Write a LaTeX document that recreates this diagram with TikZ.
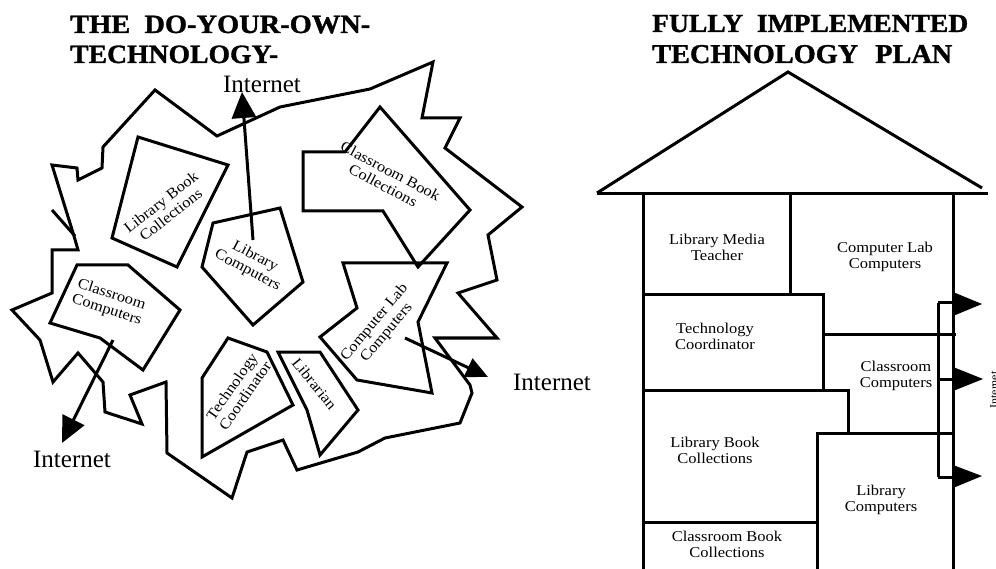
\documentclass[tikz,border=0pt]{standalone}
\usepackage{fontspec}
\usepackage{graphicx}
\setmainfont{Liberation Serif}
\newfontfamily\ttlfont{Liberation Serif}[BoldFeatures={FakeBold=1.2}]
\usetikzlibrary{arrows.meta}
\newcommand{\wtxt}[1]{\scalebox{1.1}[1]{\begin{tabular}{@{}c@{}}#1\end{tabular}}}
\begin{document}
\begin{tikzpicture}[x=1pt,y=-1pt,line join=miter,
  edge/.style={line width=3pt},
  lab/.style={font=\fontsize{15}{16}\selectfont, inner sep=0pt},
  net/.style={font=\fontsize{25}{28}\selectfont, inner sep=0pt},
  ttl/.style={anchor=base west, inner sep=0pt, font=\ttlfont\bfseries},
  arr/.style={line width=3pt, -{Triangle[length=26pt,width=24pt]}},
  arrs/.style={line width=3pt, -{Triangle[length=22pt,width=20pt]}},
  tri/.style={fill=black}]
\useasboundingbox (0,0) rectangle (996,569);
% titles
\node[ttl] (t1) at (70,33) {\resizebox{300pt}{17.5pt}{THE\hspace{0.5em}DO-YOUR-OWN-}};
\node[ttl] (t2) at (70,63) {\resizebox{208pt}{17.5pt}{TECHNOLOGY-}};
\node[ttl] (t3) at (652,32) {\resizebox{316pt}{17pt}{FULLY\hspace{0.5em}IMPLEMENTED}};
\node[ttl] (t4) at (652,63) {\resizebox{300pt}{18pt}{TECHNOLOGY\hspace{0.6em}PLAN}};
% cloud outline
\draw[edge] (155,90) -- (217,136) -- (280,107) -- (370,89) -- (433,62) -- (422,118) -- (460,118) -- (445,148) -- (522,207) -- (488,235) -- (497,280) -- (458,293) -- (497,338) -- (435,338) -- (470,385) -- (472,393) -- (460,423) -- (385,438) -- (358,452) -- (297,470) -- (283,440) -- (247,452) -- (232,498) -- (167,453) -- (166,382) -- (130,395) -- (142,424) -- (105,412) -- (103,382) -- (78,353) -- (53,382) -- (40,340) -- (12,310) -- (52,293) -- (52,250) -- (78,250) -- (74,236) -- (52,165) -- (77,168) -- (78,180) -- (102,168) -- (103,147) -- cycle;
\draw[edge] (52,210) -- (75,236);
% inner shapes
\draw[edge] (138,137) -- (228,165) -- (177,267) -- (112,238) -- cycle;
\draw[edge] (213,223) -- (280,208) -- (303,282) -- (253,325) -- (202,267) -- cycle;
\draw[edge] (303,152) -- (345,152) -- (380,107) -- (470,210) -- (418,267) -- (383,211) -- (303,211) -- cycle;
\draw[edge] (343,263) -- (447,263) -- (418,322) -- (432,393) -- (357,380) -- (320,337) -- (357,308) -- cycle;
\draw[edge] (77,265) -- (128,265) -- (180,310) -- (143,370) -- (100,338) -- (50,323) -- cycle;
\draw[edge] (228,338) -- (267,352) -- (293,405) -- (202,457) -- (202,378) -- cycle;
\draw[edge] (278,352) -- (320,352) -- (358,410) -- (320,455) -- (307,410) -- cycle;
% labels in cloud
\node[lab, rotate=38] (lbc) at (167,210) {\wtxt{Library Book\\Collections}};
\node[lab, rotate=-28] (lc) at (251,264) {\wtxt{Library\\Computers}};
\node[lab, rotate=-28] (cbc) at (386,180) {\wtxt{Classroom Book\\Collections}};
\node[lab, rotate=50] (clc) at (381,328) {\wtxt{Computer Lab\\Computers}};
\node[lab, rotate=55] (tc) at (240,392) {\wtxt{Technology\\Coordinator}};
\node[lab, rotate=-51] (lib) at (313,385) {\wtxt{Librarian}};
\node[lab, rotate=-18] (cc) at (109,303) {\wtxt{Classroom\\Computers}};
% internet labels
\node[net] (netA) at (262,84) {Internet};
\node[net] (netB) at (72,459) {Internet};
\node[net] (netC) at (552,382) {Internet};
% arrows
\coordinate (srcA) at (253,240);
\coordinate (tipA) at (242,92);
\coordinate (srcB) at (113,340);
\coordinate (tipB) at (62,443);
\coordinate (srcC) at (405,338);
\coordinate (tipC) at (488,377);
\draw[arr] (srcA) -- (tipA);
\draw[arr] (srcB) -- (tipB);
\draw[arrs] (srcC) -- (tipC);
% house
\draw[edge] (597,193) -- (788,72) -- (982,188);
\draw[edge] (597,194) -- (988,194);
\draw[edge] (643,194) -- (643,575);
\draw[edge] (953,194) -- (953,575);
\draw[edge] (790,194) -- (790,295);
\draw[edge] (643,295) -- (823,295) -- (823,390);
\draw[edge] (823,335) -- (956,335);
\draw[edge] (643,390) -- (848,390) -- (848,433);
\draw[edge] (817,575) -- (817,433) -- (953,433);
\draw[edge] (643,522) -- (818,522);
% internet rail
\coordinate (r1) at (938,303);
\coordinate (r2) at (938,379);
\coordinate (r3) at (938,477);
\draw[edge] (r1) -- (r3);
\draw[edge] (r1) -- (953,303);
\draw[edge] (r2) -- (953,379);
\draw[edge] (r3) -- (953,477);
\fill[tri] (953,292) -- (982,304) -- (953,316) -- cycle;
\fill[tri] (953,367) -- (983,379) -- (953,391) -- cycle;
\fill[tri] (953,465) -- (982,476) -- (953,488) -- cycle;
\node[lab, rotate=90, anchor=north, font=\fontsize{12}{13}\selectfont] (netR) at (990,390) {Internet};
% house labels
\node[lab] (hlmt) at (717,249) {\wtxt{Library Media\\Teacher}};
\node[lab] (hclc) at (885,257) {\wtxt{Computer Lab\\Computers}};
\node[lab] (htc) at (715,338) {\wtxt{Technology\\Coordinator}};
\node[lab] (hcc) at (896,376) {\wtxt{Classroom\\Computers}};
\node[lab] (hlbc) at (715,452) {\wtxt{Library Book\\Collections}};
\node[lab] (hlc) at (881,500) {\wtxt{Library\\Computers}};
\node[lab] (hcbc) at (727,546) {\wtxt{Classroom Book\\Collections}};
\end{tikzpicture}
\end{document}
